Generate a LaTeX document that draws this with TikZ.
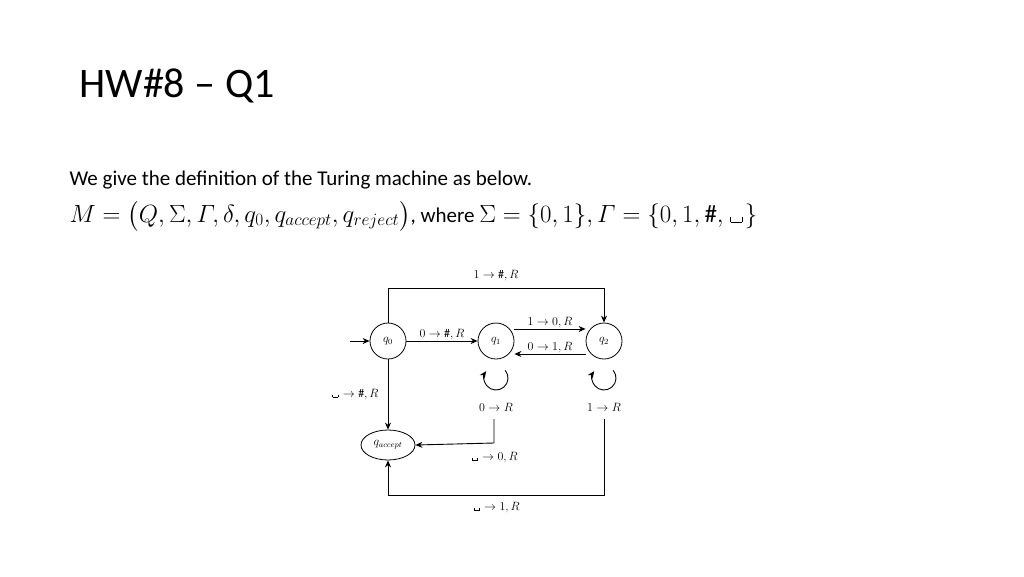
\documentclass[tikz,border=0pt]{standalone}
\usepackage{amsmath}
\usepackage{fontspec}
\setmainfont{Carlito}
\usetikzlibrary{arrows.meta,shapes.geometric}
\newcommand\blk{\kern.1em\rule{.35pt}{.45ex}\rule{.45em}{.35pt}\rule{.35pt}{.45ex}\kern.1em}
\newcommand\bm[1]{{\fontsize{25}{28}\selectfont$#1$}}
\begin{document}
\begin{tikzpicture}[x=1pt,y=-1pt,
  st/.style={draw,circle,minimum size=36pt,inner sep=0pt,line width=0.8pt,font=\fontsize{12}{14}\selectfont},
  lbl/.style={font=\fontsize{12}{14}\selectfont,inner sep=1pt},
  ed/.style={line width=0.9pt,-{Stealth[length=7pt,width=6pt]}}]
\useasboundingbox (0,0) rectangle (1024,576);
\node[anchor=west,font=\fontsize{42}{48}\selectfont] (title) at (76,86) {HW\#8 \textendash\ Q1};
\node[anchor=west,font=\fontsize{21}{25}\selectfont] (t1) at (66,180) {We give the definition of the Turing machine as below.};
\node[anchor=west,font=\fontsize{21}{25}\selectfont] (t2) at (66,216) {\bm{M=\big(Q,\Sigma,\varGamma,\delta,q_0,q_{accept},q_{reject}\big)}, where \bm{\Sigma=\{0,1\},\varGamma=\{0,1,\#,\blk\}}};
\node[st] (q0) at (388,341) {$q_0$};
\node[st] (q1) at (496,341) {$q_1$};
\node[st] (q2) at (604,341) {$q_2$};
\node[draw,ellipse,minimum width=54pt,minimum height=30pt,inner sep=0pt,line width=0.8pt,font=\fontsize{12}{14}\selectfont] (qa) at (388,445) {$q_{accept}$};
\coordinate (s) at (350,341);
\draw[ed] (s) -- (q0);
\draw[ed] (q0) -- node[lbl,above] {$0\rightarrow\#,R$} (q1);
\draw[ed] ([yshift=12pt]q1.east) -- node[lbl,above] {$1\rightarrow0,R$} ([yshift=12pt]q2.west);
\draw[ed] ([yshift=-13pt]q2.west) -- node[lbl,above] {$0\rightarrow1,R$} ([yshift=-13pt]q1.east);
\draw[ed] (q0.north) -- (388,288) -- node[lbl,above=6pt] {$1\rightarrow\#,R$} (604,288) -- (q2.north);
\draw[ed] (q0) -- node[lbl,left=8pt] {$\blk\rightarrow\#,R$} (qa);
\draw[ed] (505.2,370.3) arc[start angle=-40,end angle=215,radius=12];
\draw[ed] (613.2,370.3) arc[start angle=-40,end angle=215,radius=12];
\node[lbl] (l1) at (496,407) {$0\rightarrow R$};
\node[lbl] (l2) at (604,407) {$1\rightarrow R$};
\draw[ed] (494,419) -- (494,443) -- node[lbl,below=8pt,pos=0.0] {$\blk\rightarrow0,R$} (qa.east);
\draw[ed] (604,419) -- (604,495) -- node[lbl,below=6pt] {$\blk\rightarrow1,R$} (388,495) -- (qa.south);
\end{tikzpicture}
\end{document}
